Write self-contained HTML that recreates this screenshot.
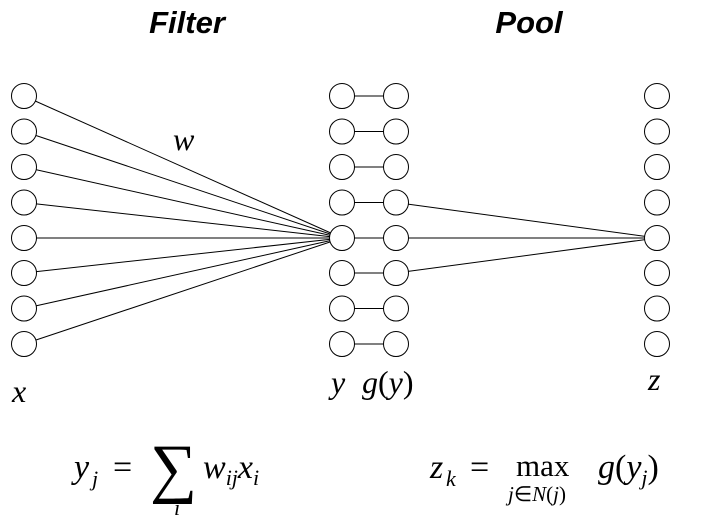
<!DOCTYPE html>
<html><head><meta charset="utf-8"><style>
html,body{margin:0;padding:0;background:#fff;width:701px;height:525px;overflow:hidden}
svg{display:block}
.t{font-family:"Liberation Serif",serif;font-style:italic;fill:#000}
.r{font-family:"Liberation Serif",serif;fill:#000}
</style></head><body>
<svg width="701" height="525" viewBox="0 0 701 525">
<text x="187" y="33" text-anchor="middle" font-family="Liberation Sans,sans-serif" font-weight="bold" font-style="italic" font-size="31">Filter</text>
<text x="529" y="33" text-anchor="middle" font-family="Liberation Sans,sans-serif" font-weight="bold" font-style="italic" font-size="31">Pool</text>
<g id="g" stroke="#000" fill="none" stroke-width="1"></g>
<text class="t" x="173" y="150" font-size="32">w</text>
<text class="t" x="12" y="402" font-size="32">x</text>
<text class="t" x="331" y="393" font-size="32">y</text>
<text x="362" y="393" font-size="32" class="r"><tspan class="t">g</tspan>(<tspan class="t">y</tspan>)</text>
<text class="t" x="648" y="390" font-size="32">z</text>
<g>
<text x="74" y="478" font-size="34" class="t">y</text>
<text x="92" y="486" font-size="22" class="t">j</text>
<text x="113" y="478" font-size="34" class="r">=</text>
<text x="150" y="490" font-size="66" class="r">∑</text>
<text class="t" x="174" y="515" font-size="22">i</text>
<text x="203" y="478" font-size="34" class="t">w<tspan font-size="22" dy="7">ij</tspan><tspan dy="-7">x</tspan><tspan font-size="22" dy="7">i</tspan></text>
</g>
<g>
<text x="430" y="478" font-size="34" class="t">z</text>
<text x="446" y="486" font-size="22" class="t">k</text>
<text x="470" y="478" font-size="34" class="r">=</text>
<text x="516" y="476" font-size="31" class="r">max</text>
<text x="508" y="501" font-size="21" class="r"><tspan class="t">j</tspan>∈<tspan class="t">N</tspan>(<tspan class="t">j</tspan>)</text>
<text x="598" y="478" font-size="34" class="r"><tspan class="t">g</tspan>(<tspan class="t">y</tspan><tspan class="t" font-size="22" dy="7">j</tspan><tspan dy="-7">)</tspan></text>
</g>
</svg>
<script>
const rows=[96,131.5,167,202.5,238,273,308.5,344];
const cols={x:24,y:342,g:396,z:657};
const R=12.5, center=4, pooled=[3,4,5];
const g=document.getElementById('g');
const NS='http://www.w3.org/2000/svg';
function line(x1,y1,x2,y2,n){const l=document.createElementNS(NS,'line');l.setAttribute('x1',x1);l.setAttribute('y1',y1);l.setAttribute('x2',x2);l.setAttribute('y2',y2);


g.appendChild(l);}
function circ(cx,cy,n){const c=document.createElementNS(NS,'circle');c.setAttribute('cx',cx);c.setAttribute('cy',cy);c.setAttribute('r',R);c.setAttribute('fill','#fff');


g.appendChild(c);}
const yc=rows[center];
rows.forEach((r,i)=>{line(cols.x,r,cols.y,yc,'filter-edge');});
rows.forEach((r,i)=>{line(cols.y,r,cols.g,r,'activation-edge');});
pooled.forEach(i=>{line(cols.g,rows[i],cols.z,yc,'pool-edge');});
rows.forEach((r,i)=>{circ(cols.x,r,'x-node');circ(cols.y,r,'y-node');circ(cols.g,r,'gy-node');circ(cols.z,r,'z-node');});
</script>
</body></html>
